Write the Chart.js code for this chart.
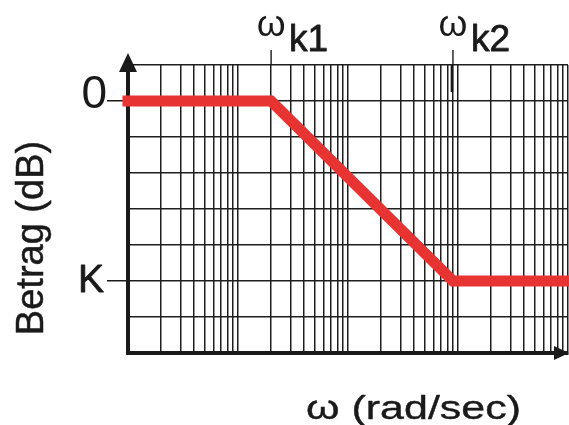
<!DOCTYPE html>
<html>
<head>
<meta charset="utf-8">
<script src="https://cdn.jsdelivr.net/npm/chart.js@4.4.1/dist/chart.umd.min.js"></script>
<style>
  html, body { margin: 0; padding: 0; background: #ffffff; }
  #wrap { width: 569px; height: 425px; }
</style>
</head>
<body>
<div id="wrap"><canvas id="c" width="569" height="425"></canvas></div>
<script>
// ---- data ----
const omegaValues = [1, 20, 900, 10000];          // rad/sec (log axis)
const magnitudeValues = [0, 0, -5, -5];           // dB (0 … K)
const cornerFrequencies = [20, 900];              // ωk1, ωk2
const cornerLabels = ['k1', 'k2'];
const xGridValues = [1, 2, 3, 4, 5, 6, 7, 8, 9,
                     10, 20, 30, 40, 50, 60, 70, 80, 90,
                     100, 200, 300, 400, 500, 600, 700, 800, 900,
                     1000, 2000, 3000, 4000, 5000, 6000, 7000, 8000, 9000, 10000];
const yGridValues = [1, 0, -1, -2, -3, -4, -5, -6, -7];
const yTickValues = [0, -5];
const yTickLabels = ['0', 'K'];
const xTitle = 'ω (rad/sec)';
const yTitle = 'Betrag (dB)';

const INK = '#1a1a1a';
const FONT = '"Liberation Sans", Arial, Helvetica, sans-serif';

function heavyText(ctx, text, x, y, sw) {
  ctx.fillText(text, x, y);
  if (sw > 0) {
    ctx.lineWidth = sw;
    ctx.strokeText(text, x, y);
  }
}

const overlay = {
  id: 'overlay',
  afterDraw(chart) {
    const ctx = chart.ctx;
    const xs = chart.scales.x, ys = chart.scales.y;
    const area = chart.chartArea;
    ctx.save();
    ctx.fillStyle = INK;
    ctx.strokeStyle = INK;
    ctx.lineJoin = 'round';

    // arrow heads
    ctx.beginPath();
    ctx.moveTo(area.left, 53);
    ctx.lineTo(area.left - 9, 72);
    ctx.lineTo(area.left + 9, 72);
    ctx.closePath();
    ctx.fill();
    ctx.beginPath();
    ctx.moveTo(area.right + 1, area.bottom);
    ctx.lineTo(area.right - 14, area.bottom - 7);
    ctx.lineTo(area.right - 14, area.bottom + 7);
    ctx.closePath();
    ctx.fill();

    // corner frequency marks and labels
    cornerFrequencies.forEach((f, i) => {
      const px = xs.getPixelForValue(f);
      ctx.lineWidth = 1.4;
      ctx.beginPath();
      ctx.moveTo(px, 50);
      ctx.lineTo(px, area.top);
      ctx.stroke();
      if (i === 1) {
        ctx.lineWidth = 2.6;
        ctx.beginPath();
        ctx.moveTo(px - 1, area.top);
        ctx.lineTo(px - 1, 92);
        ctx.stroke();
      }
      ctx.textBaseline = 'alphabetic';
      ctx.textAlign = 'center';
      ctx.font = '37px ' + FONT;
      heavyText(ctx, 'ω', px, 36, 0);
      ctx.textAlign = 'left';
      ctx.font = '37px ' + FONT;
      heavyText(ctx, cornerLabels[i], px + 18, 51, 0.8);
    });

    // y tick labels
    ctx.textAlign = 'right';
    ctx.textBaseline = 'alphabetic';
    yTickValues.forEach((v, i) => {
      const py = ys.getPixelForValue(v);
      if (i === 0) {
        ctx.font = '46px ' + FONT;
        heavyText(ctx, yTickLabels[i], 107, py + 7, 0);
      } else {
        ctx.font = '39px ' + FONT;
        heavyText(ctx, yTickLabels[i], 104, py + 11, 0.8);
      }
    });

    // axis titles
    ctx.font = '38px ' + FONT;
    ctx.save();
    ctx.translate(43, 238);
    ctx.rotate(-Math.PI / 2);
    ctx.textAlign = 'center';
    ctx.textBaseline = 'alphabetic';
    heavyText(ctx, yTitle, 0, 0, 0.5);
    ctx.restore();

    ctx.font = '34px ' + FONT;
    const w = ctx.measureText(xTitle).width;
    ctx.save();
    ctx.translate(306, 419);
    ctx.scale(215 / w, 1);
    ctx.textAlign = 'left';
    heavyText(ctx, xTitle, 0, 0, 0.4);
    ctx.restore();

    ctx.restore();
  }
};

new Chart(document.getElementById('c'), {
  type: 'line',
  data: {
    datasets: [{
      data: omegaValues.map((x, i) => ({ x: x, y: magnitudeValues[i] })),
      borderColor: '#e83333',
      borderWidth: 11,
      borderCapStyle: 'square',
      borderJoinStyle: 'miter',
      pointRadius: 0,
      tension: 0,
      fill: false,
      clip: false
    }]
  },
  options: {
    responsive: false,
    animation: false,
    events: [],
    layout: { padding: { top: 65, right: 1, left: 0, bottom: 0 } },
    plugins: { legend: { display: false }, tooltip: { enabled: false }, title: { display: false } },
    scales: {
      x: {
        type: 'logarithmic',
        min: 1,
        max: 10000,
        afterBuildTicks: (s) => { s.ticks = xGridValues.map(v => ({ value: v })); },
        afterFit: (s) => { s.height = 72; },
        ticks: { display: false },
        grid: { color: '#1e1e1e', lineWidth: 1.5, drawTicks: false },
        border: { display: true, color: INK, width: 4 }
      },
      y: {
        type: 'linear',
        min: -7,
        max: 1,
        afterBuildTicks: (s) => { s.ticks = yGridValues.map(v => ({ value: v })); },
        afterFit: (s) => { s.width = 128; },
        ticks: { display: false },
        grid: {
          color: '#1e1e1e',
          lineWidth: 1.5,
          drawTicks: true,
          tickLength: 21,
          tickColor: (c) => (c.tick && yTickValues.includes(c.tick.value)) ? INK : 'rgba(0,0,0,0)'
        },
        border: { display: true, color: INK, width: 4 }
      }
    }
  },
  plugins: [overlay]
});
</script>
</body>
</html>
